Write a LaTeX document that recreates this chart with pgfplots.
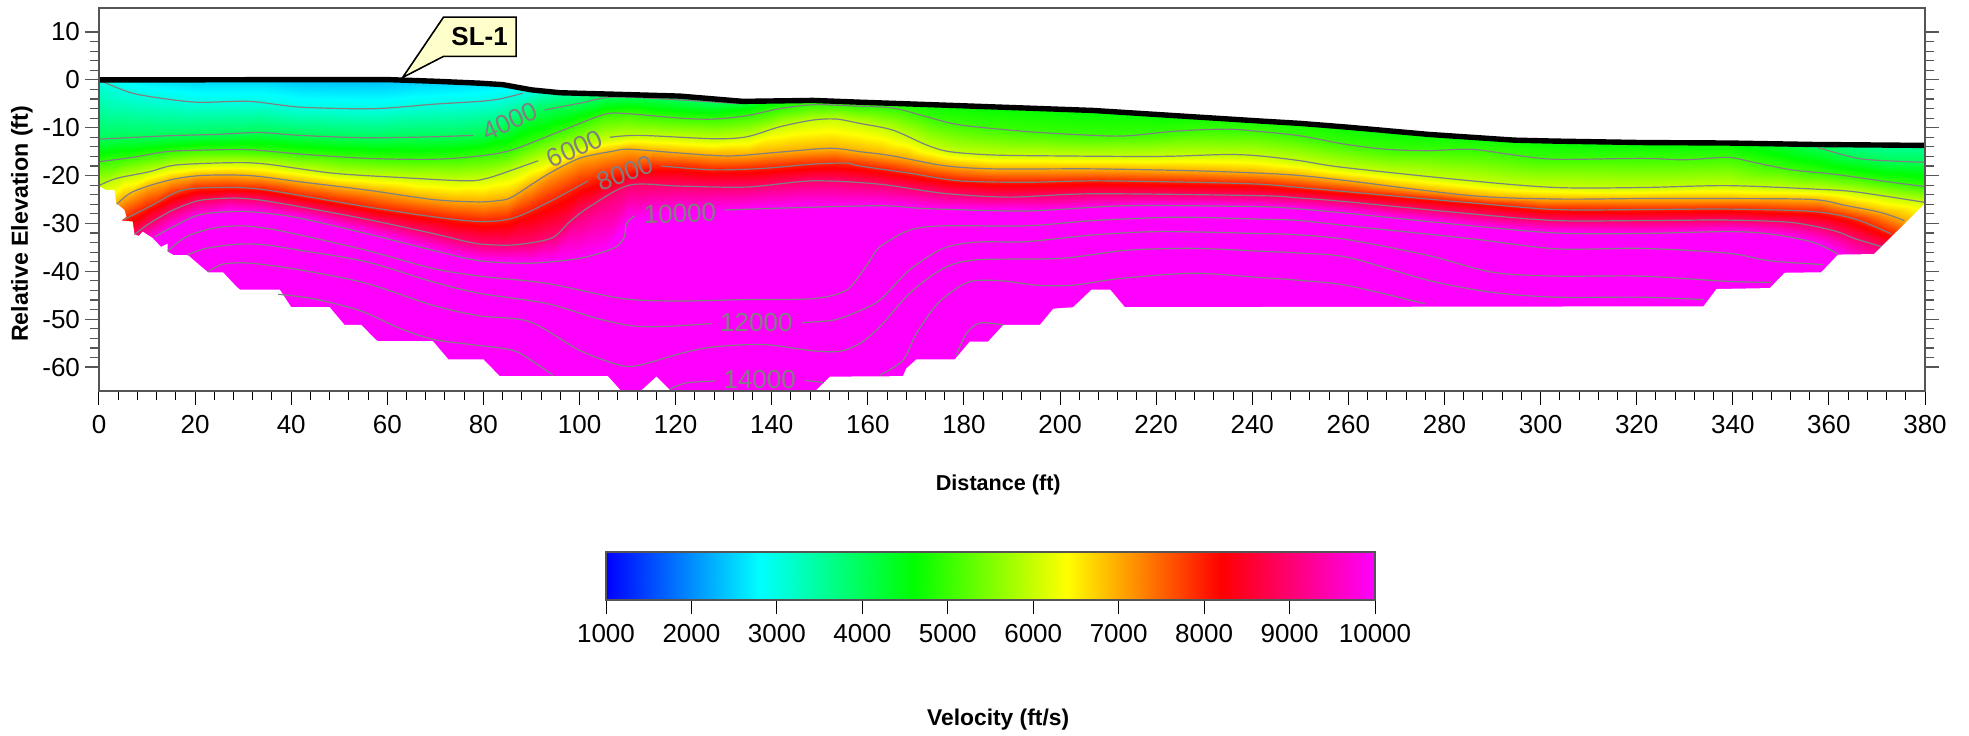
\documentclass[border=0pt]{standalone}
\usepackage{pgfplots}
\usepackage{fontspec}
\setmainfont{Liberation Sans}
\pgfplotsset{compat=1.18}
\definecolor{calloutfill}{HTML}{FFFFCC}
\definecolor{contourgray}{HTML}{808080}
\definecolor{framegray}{HTML}{555555}
\pgfplotsset{colormap={vel}{rgb255=(0,0,255) rgb255=(0,255,255) rgb255=(0,255,0) rgb255=(255,255,0) rgb255=(255,0,0) rgb255=(255,0,255)}}
\newcommand{\fs}[1]{\fontsize{#1}{#1}\selectfont}
\begin{document}
\begin{tikzpicture}[x=1pt,y=1pt]
\useasboundingbox (0,0) rectangle (984.5,367.5);
\begin{axis}[
  at={(49.5pt,172pt)}, anchor=south west,
  scale only axis, width=913pt, height=191.5pt,
  xmin=0, xmax=380, ymin=-65, ymax=15,
  axis on top,
  colormap name=vel,
  point meta min=1000, point meta max=10000,
  /pgf/number format/assume math mode=true,
  /pgf/number format/set thousands separator={},
  xtick={0,20,...,380}, ytick={-60,-50,...,10},
  minor x tick num=4, minor y tick num=4,
  xtick pos=bottom, ytick pos=both, yticklabel pos=left,
  tick align=outside,
  x tick style={black,line width=0.5pt},
  y tick style={framegray,line width=0.6pt},
  axis line style={framegray,line width=0.6pt},
  ticklabel style={font=\fs{13}},
  major tick length=7pt, minor tick length=4.5pt,
  xticklabel style={yshift=-1.5pt},
  yticklabel style={xshift=1pt},
  xlabel={Distance (ft)},
  x label style={font=\fs{10.8}\bfseries, at={(axis description cs:0.4925,0)}, anchor=center, yshift=-47pt},
  ylabel={Relative Elevation (ft)},
  y label style={font=\fs{11.6}\bfseries, at={(axis description cs:0,0.436)}, anchor=center, yshift=38.5pt},
]
% velocity field: rows follow the isovelocity curves read from the section
\addplot[surf, shader=interp, mesh/rows=10, mesh/cols=50, point meta=explicit] table[x=x,y=y,meta=v,row sep=\\] {
x y v\\
0 9 2000\\ 5 6.7 2000\\ 10 5.6 2000\\ 15 4.9 2000\\ 20 4.4 2000\\ 27 4.4 2000\\ 34 4.3 2000\\ 42 3.3 2000\\ 50 3.1 2000\\ 58 3 2000\\ 66 3.7 2000\\ 74 4.1 2000\\ 80 4.5 2000\\ 85 5.4 2000\\ 90 6.7 2000\\ 95 8 2000\\ 100 20 2000\\ 105 20 2000\\ 110 20 2000\\ 115 20 2000\\ 121 20 2000\\ 128 20 2000\\ 135 20 2000\\ 142 20 2000\\ 148 20 2000\\ 153 20 2000\\ 158 20 2000\\ 163 20 2000\\ 168 20 2000\\ 173 20 2000\\ 178 20 2000\\ 186 20 2000\\ 196 20 2000\\ 207 20 2000\\ 218 20 2000\\ 230 20 2000\\ 241 20 2000\\ 250 20 2000\\ 260 20 2000\\ 270 20 2000\\ 280 20 2000\\ 290 20 2000\\ 300 20 2000\\ 320 20 2000\\ 339 20 2000\\ 350 20 2000\\ 358 20 2000\\ 365 20 2000\\ 372 20 2000\\ 380 20 2000\\
0 0 3000\\ 5 -2.3 3000\\ 10 -3.4 3000\\ 15 -4.1 3000\\ 20 -4.6 3000\\ 27 -4.6 3000\\ 34 -4.7 3000\\ 42 -5.7 3000\\ 50 -5.9 3000\\ 58 -6 3000\\ 66 -5.3 3000\\ 74 -4.9 3000\\ 80 -4.5 3000\\ 85 -3.6 3000\\ 90 -2.3 3000\\ 95 -1 3000\\ 100 0 3000\\ 105 1 3000\\ 110 1 3000\\ 115 1 3000\\ 121 1 3000\\ 128 1 3000\\ 135 2 3000\\ 142 6 3000\\ 148 8 3000\\ 153 8 3000\\ 158 8 3000\\ 163 8 3000\\ 168 8 3000\\ 173 8 3000\\ 178 8 3000\\ 186 8 3000\\ 196 8 3000\\ 207 8 3000\\ 218 8 3000\\ 230 8 3000\\ 241 8 3000\\ 250 8 3000\\ 260 4 3000\\ 270 3 3000\\ 280 2 3000\\ 290 1 3000\\ 300 0 3000\\ 320 -1 3000\\ 339 -2 3000\\ 350 -6 3000\\ 358 -8 3000\\ 365 -9 3000\\ 372 -10 3000\\ 380 -10 3000\\
0 -12.4 4000\\ 5 -12 4000\\ 10 -11.9 4000\\ 15 -11.7 4000\\ 20 -11.5 4000\\ 27 -11.3 4000\\ 34 -11 4000\\ 42 -11.6 4000\\ 50 -11.9 4000\\ 58 -12.1 4000\\ 66 -12 4000\\ 74 -11.7 4000\\ 80 -11.1 4000\\ 85 -9.5 4000\\ 90 -6.8 4000\\ 95 -5.7 4000\\ 100 -4.9 4000\\ 105 -3.9 4000\\ 110 -3.6 4000\\ 115 -3.9 4000\\ 121 -4.2 4000\\ 128 -4.8 4000\\ 135 -4 4000\\ 142 -2 4000\\ 148 -1 4000\\ 153 -1 4000\\ 158 -0.8 4000\\ 163 -0.5 4000\\ 168 0 4000\\ 173 0 4000\\ 178 0.5 4000\\ 186 1 4000\\ 196 1.5 4000\\ 207 1.5 4000\\ 218 1 4000\\ 230 -0.5 4000\\ 241 -1 4000\\ 250 -2 4000\\ 260 -3 4000\\ 270 -4 4000\\ 280 -5 4000\\ 290 -6 4000\\ 300 -7 4000\\ 320 -8 4000\\ 339 -9 4000\\ 350 -12 4000\\ 358 -14.1 4000\\ 365 -16 4000\\ 372 -16.9 4000\\ 380 -17.2 4000\\
0 -17.1 5000\\ 5 -16.5 5000\\ 10 -15.7 5000\\ 15 -15 5000\\ 20 -14.7 5000\\ 27 -14.6 5000\\ 34 -14.8 5000\\ 42 -15.5 5000\\ 50 -16 5000\\ 58 -16.4 5000\\ 66 -16.6 5000\\ 74 -16.3 5000\\ 80 -15.8 5000\\ 85 -15 5000\\ 90 -12.9 5000\\ 95 -11.1 5000\\ 100 -9.2 5000\\ 105 -7.3 5000\\ 110 -7 5000\\ 115 -7.5 5000\\ 121 -8 5000\\ 128 -8.2 5000\\ 135 -7.5 5000\\ 142 -6 5000\\ 148 -5.2 5000\\ 153 -5.3 5000\\ 158 -5.6 5000\\ 163 -5.8 5000\\ 168 -6.6 5000\\ 173 -7.9 5000\\ 178 -9.1 5000\\ 186 -10.1 5000\\ 196 -11 5000\\ 207 -11.6 5000\\ 218 -11.3 5000\\ 230 -10.4 5000\\ 241 -10.7 5000\\ 250 -11.7 5000\\ 260 -13.5 5000\\ 270 -14.6 5000\\ 280 -14.7 5000\\ 290 -15.1 5000\\ 300 -16.3 5000\\ 320 -16.4 5000\\ 339 -16.2 5000\\ 350 -18.3 5000\\ 358 -19.4 5000\\ 365 -20.3 5000\\ 372 -21.3 5000\\ 380 -22.3 5000\\
0 -22.1 6000\\ 5 -20.3 6000\\ 10 -19.3 6000\\ 15 -18 6000\\ 20 -17.6 6000\\ 27 -17.3 6000\\ 34 -17.5 6000\\ 42 -18.6 6000\\ 50 -19.6 6000\\ 58 -20.1 6000\\ 66 -20.6 6000\\ 74 -21 6000\\ 80 -20.6 6000\\ 85 -19.4 6000\\ 90 -17.4 6000\\ 95 -15.7 6000\\ 100 -14.1 6000\\ 105 -12.4 6000\\ 110 -11.7 6000\\ 115 -11.7 6000\\ 121 -12 6000\\ 128 -12.3 6000\\ 135 -11.8 6000\\ 142 -9.7 6000\\ 148 -8.5 6000\\ 153 -8.2 6000\\ 158 -9 6000\\ 163 -10 6000\\ 168 -11.7 6000\\ 173 -13.9 6000\\ 178 -15.1 6000\\ 186 -15.7 6000\\ 196 -15.8 6000\\ 207 -15.9 6000\\ 218 -16 6000\\ 230 -15.7 6000\\ 241 -15.9 6000\\ 250 -16.9 6000\\ 260 -18.4 6000\\ 270 -19.5 6000\\ 280 -20.5 6000\\ 290 -21.5 6000\\ 300 -22.2 6000\\ 320 -22.5 6000\\ 339 -22.1 6000\\ 350 -22.5 6000\\ 358 -22.9 6000\\ 365 -23.4 6000\\ 372 -24.4 6000\\ 380 -25.6 6000\\
0 -29 7000\\ 5 -24.9 7000\\ 10 -22.4 7000\\ 15 -20.9 7000\\ 20 -20.1 7000\\ 27 -19.9 7000\\ 34 -20.2 7000\\ 42 -21.3 7000\\ 50 -22.3 7000\\ 58 -23.3 7000\\ 66 -24.5 7000\\ 74 -25.3 7000\\ 80 -25.5 7000\\ 85 -24.8 7000\\ 90 -21.9 7000\\ 95 -18.9 7000\\ 100 -16.4 7000\\ 105 -15.3 7000\\ 110 -14.5 7000\\ 115 -14.9 7000\\ 121 -15.3 7000\\ 128 -15.7 7000\\ 135 -15.6 7000\\ 142 -15.1 7000\\ 148 -14.6 7000\\ 153 -14.4 7000\\ 158 -15 7000\\ 163 -15.6 7000\\ 168 -16.4 7000\\ 173 -17.4 7000\\ 178 -18.1 7000\\ 186 -18.6 7000\\ 196 -18.6 7000\\ 207 -18.6 7000\\ 218 -18.8 7000\\ 230 -19.1 7000\\ 241 -19.5 7000\\ 250 -20 7000\\ 260 -21.1 7000\\ 270 -22.3 7000\\ 280 -23.5 7000\\ 290 -24.4 7000\\ 300 -24.8 7000\\ 320 -24.8 7000\\ 339 -24.8 7000\\ 350 -24.9 7000\\ 358 -25.2 7000\\ 365 -26.6 7000\\ 372 -28.1 7000\\ 380 -31 7000\\
0 -32.5 8000\\ 5 -29.3 8000\\ 10 -26.8 8000\\ 15 -24.2 8000\\ 20 -22.9 8000\\ 27 -22.5 8000\\ 34 -22.9 8000\\ 42 -24.2 8000\\ 50 -25.6 8000\\ 58 -26.9 8000\\ 66 -28 8000\\ 74 -29.1 8000\\ 80 -29.6 8000\\ 85 -29.2 8000\\ 90 -27.2 8000\\ 95 -24.8 8000\\ 100 -22.1 8000\\ 105 -20.5 8000\\ 110 -19.3 8000\\ 115 -18.2 8000\\ 121 -18.3 8000\\ 128 -18.8 8000\\ 135 -18.6 8000\\ 142 -18.2 8000\\ 148 -17.7 8000\\ 153 -17.5 8000\\ 158 -18 8000\\ 163 -18.6 8000\\ 168 -19.4 8000\\ 173 -20.2 8000\\ 178 -21 8000\\ 186 -21.3 8000\\ 196 -21.4 8000\\ 207 -21.1 8000\\ 218 -21.3 8000\\ 230 -21.5 8000\\ 241 -21.8 8000\\ 250 -22.5 8000\\ 260 -23.4 8000\\ 270 -24.3 8000\\ 280 -25.2 8000\\ 290 -26 8000\\ 300 -26.9 8000\\ 320 -27.1 8000\\ 339 -27 8000\\ 350 -27.3 8000\\ 358 -27.7 8000\\ 365 -29 8000\\ 372 -31.8 8000\\ 380 -37 8000\\
0 -37 9000\\ 5 -34 9000\\ 10 -30.4 9000\\ 15 -27.4 9000\\ 20 -25.5 9000\\ 27 -24.7 9000\\ 34 -25.2 9000\\ 42 -26.5 9000\\ 50 -28 9000\\ 58 -29.6 9000\\ 66 -31.4 9000\\ 74 -33.2 9000\\ 80 -34.3 9000\\ 85 -34.5 9000\\ 90 -34 9000\\ 95 -32.4 9000\\ 100 -28.1 9000\\ 105 -24.9 9000\\ 110 -22.1 9000\\ 115 -22.1 9000\\ 121 -22.2 9000\\ 128 -22.4 9000\\ 135 -22.4 9000\\ 142 -21.7 9000\\ 148 -21.1 9000\\ 153 -21.2 9000\\ 158 -21.5 9000\\ 163 -21.9 9000\\ 168 -22.6 9000\\ 173 -23.3 9000\\ 178 -23.9 9000\\ 186 -24.4 9000\\ 196 -24.3 9000\\ 207 -23.8 9000\\ 218 -23.9 9000\\ 230 -24.1 9000\\ 241 -24.2 9000\\ 250 -24.7 9000\\ 260 -25.5 9000\\ 270 -26.5 9000\\ 280 -27.5 9000\\ 290 -28.4 9000\\ 300 -29.2 9000\\ 320 -29.4 9000\\ 339 -29.3 9000\\ 350 -29.7 9000\\ 358 -30.8 9000\\ 365 -33 9000\\ 372 -35.5 9000\\ 380 -42 9000\\
0 -41 10000\\ 5 -37.5 10000\\ 10 -34 10000\\ 15 -30.9 10000\\ 20 -28.6 10000\\ 27 -27.5 10000\\ 34 -27.8 10000\\ 42 -28.9 10000\\ 50 -30.8 10000\\ 58 -32.7 10000\\ 66 -34.7 10000\\ 74 -36.7 10000\\ 80 -37.9 10000\\ 85 -38.1 10000\\ 90 -38.3 10000\\ 95 -37.8 10000\\ 100 -37.3 10000\\ 105 -35.8 10000\\ 110 -29.6 10000\\ 115 -28.2 10000\\ 121 -27.8 10000\\ 128 -27.3 10000\\ 135 -27 10000\\ 142 -26.8 10000\\ 148 -26.6 10000\\ 153 -26.5 10000\\ 158 -26.4 10000\\ 163 -26.3 10000\\ 168 -26.6 10000\\ 173 -26.9 10000\\ 178 -27 10000\\ 186 -27.2 10000\\ 196 -27.3 10000\\ 207 -26.7 10000\\ 218 -26.3 10000\\ 230 -26.4 10000\\ 241 -26.5 10000\\ 250 -27 10000\\ 260 -27.9 10000\\ 270 -28.9 10000\\ 280 -29.9 10000\\ 290 -30.9 10000\\ 300 -31.8 10000\\ 320 -32.1 10000\\ 339 -31.7 10000\\ 350 -32.6 10000\\ 358 -34.3 10000\\ 365 -38 10000\\ 372 -44 10000\\ 380 -50 10000\\
0 -70 10000\\ 5 -70 10000\\ 10 -70 10000\\ 15 -70 10000\\ 20 -70 10000\\ 27 -70 10000\\ 34 -70 10000\\ 42 -70 10000\\ 50 -70 10000\\ 58 -70 10000\\ 66 -70 10000\\ 74 -70 10000\\ 80 -70 10000\\ 85 -70 10000\\ 90 -70 10000\\ 95 -70 10000\\ 100 -70 10000\\ 105 -70 10000\\ 110 -70 10000\\ 115 -70 10000\\ 121 -70 10000\\ 128 -70 10000\\ 135 -70 10000\\ 142 -70 10000\\ 148 -70 10000\\ 153 -70 10000\\ 158 -70 10000\\ 163 -70 10000\\ 168 -70 10000\\ 173 -70 10000\\ 178 -70 10000\\ 186 -70 10000\\ 196 -70 10000\\ 207 -70 10000\\ 218 -70 10000\\ 230 -70 10000\\ 241 -70 10000\\ 250 -70 10000\\ 260 -70 10000\\ 270 -70 10000\\ 280 -70 10000\\ 290 -70 10000\\ 300 -70 10000\\ 320 -70 10000\\ 339 -70 10000\\ 350 -70 10000\\ 358 -70 10000\\ 365 -70 10000\\ 372 -70 10000\\ 380 -70 10000\\
};
% white above the ground surface
\addplot[fill=white,draw=none,forget plot] coordinates {(-1,0)(0,0)(20,0)(40,0.05)(60,0.05)(70,-0.3)(79.2,-0.7)(84,-1)(90,-2.1)(96,-2.7)(107,-3)(120.9,-3.4)(134,-4.5)(148.6,-4.3)(158.3,-4.67)(179.1,-5.4)(206.9,-6.4)(241.6,-8.6)(250,-9.1)(260,-9.9)(276.7,-11.4)(294.5,-12.6)(303,-12.8)(321,-13.1)(339,-13.2)(356.6,-13.5)(380,-13.7)(381,-13.7)(381,16)(-1,16)} --cycle;
% white below the ray coverage
\addplot[fill=white,draw=none,forget plot] coordinates {(-1,-22.3)(0,-22.3)(1.5,-23)(3.2,-23)(3.6,-25.8)(5.3,-27.2)(5.7,-28.6)(4.6,-29.4)(7,-29.6)(7.4,-32.3)(8.3,-32.6)(9.1,-31.7)(11.2,-33.1)(12.9,-34.9)(14.3,-34.2)(14.3,-35.9)(15.5,-36.6)(18.5,-36.6)(20.9,-38.7)(22.7,-40.2)(25.8,-40.2)(28.6,-43.2)(29.3,-43.8)(37.6,-43.8)(40,-47.5)(48,-47.5)(51.1,-51.2)(54.6,-51.2)(57.7,-54.4)(58.1,-54.6)(69.5,-54.6)(72.7,-58.4)(80,-58.4)(83.4,-61.9)(105.9,-61.9)(109.1,-65.5)(112.2,-65.5)(116,-62)(119.5,-65.5)(148.6,-65.5)(152.1,-62)(167.3,-61.9)(168,-60.3)(170.1,-58.4)(178.1,-58.4)(181.2,-54.7)(185,-54.7)(188.2,-51.2)(195.8,-51.2)(198.6,-47.8)(202.7,-47.5)(206.6,-43.8)(210.4,-43.8)(213.5,-47.5)(333.9,-47.3)(336.6,-43.7)(347.7,-43.5)(350.8,-40.3)(358.4,-40.2)(361.9,-36.5)(369.4,-36.4)(380,-25.8)(381,-25.8)(381,-67)(-1,-67)} --cycle;
% contours
\pgfplotsset{cont/.style={contourgray,line width=0.6pt,smooth,tension=0.5,no markers,forget plot}}
\addplot[cont] coordinates {(0.5,-0.3)(1.5,-0.7)(7,-2.8)(14,-4)(20.9,-4.7)(31.3,-4.5)(41.8,-5.7)(55.6,-6.06)(62.6,-5.7)(69.5,-5.1)(79.2,-4.5)(83.4,-4)(88.2,-2.8)};
\addplot[cont] coordinates {(0,-12.4)(14,-11.7)(24.4,-11.4)(33.4,-11)(41.8,-11.6)(55.6,-12.1)(69.5,-11.9)(77.9,-11.6)};
\addplot[cont] coordinates {(92.7,-6.3)(100,-4.9)(107,-3.6)(120.9,-4.2)(133.4,-5)};
\addplot[cont] coordinates {(357.6,-14.1)(366,-16.4)(374,-17)(380,-17.2)};
\addplot[cont] coordinates {(0,-17.1)(7,-16.2)(14,-15)(21,-14.7)(31.3,-14.6)(41.8,-15.5)(55.6,-16.4)(69.5,-16.6)(79.2,-15.9)(86.1,-14.6)(96.6,-10.5)(104.9,-7.3)(109,-7)(120.9,-8)(127.8,-8.2)(134.8,-7.5)(141.7,-6)(148.6,-5.2)(155.6,-5.4)(165.2,-5.9)(172.2,-7.7)(179.1,-9.4)(193,-10.8)(206.9,-11.6)(213.9,-11.7)(224.3,-10.7)(234.7,-10.3)(241.6,-10.8)(250,-11.7)(259,-13.4)(267.8,-14.5)(276.7,-14.8)(285.6,-14.5)(294.5,-15.7)(303.3,-16.6)(321,-16.4)(330,-16.7)(338.9,-16.2)(344.2,-17.2)(352.2,-18.8)(361,-19.7)(370.8,-21.1)(380,-22.3)};
\addplot[cont] coordinates {(0,-22.1)(3.6,-20.6)(10.5,-19.2)(16,-17.8)(27.9,-17.3)(34.8,-17.6)(48.7,-19.5)(62.6,-20.4)(76.5,-21.1)(81,-20.5)(86.1,-18.8)(91.4,-16.9)};
\addplot[cont] coordinates {(106.3,-12)(112.5,-11.6)(127.8,-12.3)(134.8,-11.9)(141.7,-9.8)(148.6,-8.4)(153.5,-8.2)(158.3,-9.1)(165.2,-10.5)(172.2,-13.6)(177,-15)(186.1,-15.7)(200,-15.9)(220.8,-16)(234.7,-15.6)(241.6,-15.9)(250,-16.9)(259,-18.3)(285.6,-21.1)(303.3,-22.5)(321,-22.5)(338.9,-22.1)(356.6,-22.8)(365.5,-23.4)(380,-25.6)};
\addplot[cont] coordinates {(3.7,-26)(7,-23.4)(14,-21.1)(21,-20)(31.3,-20)(41.8,-21.3)(55.6,-23)(69.5,-25)(78.6,-25.5)(83.4,-25.2)(86.1,-24.4)(93.1,-19.9)(100,-16.4)(107,-14.9)(110.4,-14.5)(120.9,-15.3)(131.3,-15.9)(141.7,-15.1)(152.1,-14.3)(158.3,-15)(165.2,-15.9)(175.7,-17.9)(186.1,-18.6)(206.9,-18.6)(227.7,-19)(241.6,-19.5)(250,-20)(260,-21.1)(285.6,-24.2)(303.3,-24.9)(321,-24.8)(338.9,-24.8)(356.6,-25)(363.7,-26.3)(370.8,-27.7)(375.7,-29.4)};
\addplot[cont] coordinates {(5,-29.3)(10.5,-26.5)(17.5,-23)(26.5,-22.5)(34.8,-23)(55.6,-26.5)(69.5,-28.6)(79.2,-29.6)(86.1,-28.9)(93.1,-25.8)(101.8,-21.1)};
\addplot[cont] coordinates {(117,-18)(127.8,-18.8)(138.2,-18.5)(148.6,-17.6)(155.6,-17.4)(158.3,-18)(168.7,-19.5)(179.1,-21.1)(193,-21.4)(206.9,-21.1)(227.7,-21.4)(241.6,-21.8)(250,-22.5)(260,-23.4)(285.6,-25.7)(303.3,-27.1)(321,-27.1)(338.9,-27)(356.6,-27.5)(365.5,-29.1)(373,-32.2)};
\addplot[cont] coordinates {(7.4,-32.3)(10.5,-30)(15.4,-27.2)(20.9,-25.2)(27.9,-24.7)(33.4,-25.1)(41.8,-26.5)(55.6,-29.1)(69.5,-32.1)(76.5,-33.8)(79.2,-34.3)(86.1,-34.5)(94.1,-33.1)(98,-29.6)(102.1,-26.5)(110.4,-22)(120.9,-22.2)(134.8,-22.4)(148.6,-21.1)(162.5,-21.8)(175.7,-23.7)(189.5,-24.5)(206.9,-23.8)(241.6,-24.2)(250,-24.7)(260,-25.5)(285.6,-28)(303.3,-29.4)(321,-29.4)(338.9,-29.3)(352.2,-29.8)(361,-31.5)(365.5,-33.2)(370.8,-34.8)};
\addplot[cont] coordinates {(11.6,-32.8)(15.4,-30.7)(20.9,-28.2)(27.9,-27.5)(33.4,-27.7)(41.8,-28.9)(55.6,-32.1)(69.5,-35.6)(79.2,-37.8)(89.6,-38.3)(100,-37.3)(107,-35.2)(109.2,-33.1)(109.8,-30)(111.5,-28.4)};
\addplot[cont] coordinates {(130.2,-27.2)(141.7,-26.8)(162.5,-26.3)(172.2,-26.9)(193,-27.4)(213.9,-26.3)(241.6,-26.5)(250,-27)(260,-27.9)(285.6,-30.5)(303.3,-32)(321,-32.1)(338.9,-31.7)(347.7,-32.2)(356.6,-33.9)(361.9,-36.4)};
\addplot[cont] coordinates {(14.3,-35.8)(18.1,-32.8)(23.7,-31)(29.3,-30.5)(34.8,-31)(41.8,-32.4)(55.6,-35.6)(69.5,-39.4)(79.2,-41)(93.1,-42.5)(109,-45.7)(120.9,-46.2)(134.8,-45.9)(148.6,-45.7)(155.6,-43.9)(159.8,-38.7)(162.5,-34.9)(168.7,-31.4)(175.7,-30.5)(193,-30.5)(206.9,-29.4)(224.3,-28.7)(241.6,-29.1)(250,-29.4)(260,-30.5)(285.6,-33.2)(303.3,-35.3)(321,-35.2)(338.9,-36.2)(347.7,-37.8)(358.9,-38.6)};
\addplot[cont] coordinates {(18.3,-36.6)(22.3,-35.2)(29.3,-34.3)(34.8,-34.5)(41.8,-35.6)(55.6,-38)(69.5,-42.2)(79.2,-44.6)(93.1,-46.7)(103.5,-49.8)(111.1,-51.4)(118.1,-51.5)(127.5,-50.9)};
\addplot[cont] coordinates {(146.2,-50.7)(152.8,-50.2)(157.7,-48.5)(162.5,-46)(168.7,-39.7)(175.7,-35.2)(182.6,-33.9)(193,-33.8)(206.9,-32.4)(220.8,-31.7)(241.6,-32.1)(250,-32.4)(260,-33.4)(276.7,-36.7)(290,-40.2)(303.3,-41)(321,-41)(338.9,-42.1)(348,-42.3)};
\addplot[cont] coordinates {(22.7,-40.1)(25.8,-38.5)(31.4,-38.3)(41.8,-39.7)(55.6,-42.5)(69.5,-47.1)(79.2,-49.3)(89.6,-50.5)(100,-56.5)(108.4,-59.6)(112.5,-59.6)(120.9,-57.2)(127.8,-55.8)(138.2,-55.3)(148.6,-56.6)(154.2,-56.7)(158.3,-55.1)(162.5,-51.6)(168.7,-44.6)(175.7,-39.4)(182.6,-37.6)(200,-37.3)(213.9,-35.6)(227.7,-35.2)(241.6,-35.8)(250,-36.2)(260,-37.1)(276.7,-41.9)(290,-44.4)(303.3,-45.4)(321,-45.4)(334,-45.9)};
\addplot[cont] coordinates {(37.3,-44.8)(44.5,-45.7)(54.3,-48.2)(62.6,-51.9)(69.5,-54.2)(76.5,-55.2)(86.1,-56.5)(91,-59.3)(94.5,-61.7)};
\addplot[cont] coordinates {(118.8,-64.6)(122.3,-63.3)(128.2,-62.9)};
\addplot[cont] coordinates {(147,-62.8)(150.7,-63.2)};
\addplot[cont] coordinates {(162.5,-61.7)(167.3,-58.6)(170.1,-53)(174.3,-47)(178.4,-43.6)(181.9,-42)(188.2,-42)(195.1,-42.9)(202.7,-42.9)(212.5,-41.5)(227.7,-40.4)(241.6,-41.3)(250,-41.9)(260,-43)(276,-46.8)};
\addplot[cont] coordinates {(178.4,-57.5)(180.5,-53)(183.3,-50.8)(188.2,-51.2)};
% contour labels
\node[contourgray,font=\fs{13},rotate=24] at (axis cs:85.5,-8.7) {4000};
\node[contourgray,font=\fs{13},rotate=24] at (axis cs:99,-14.4) {6000};
\node[contourgray,font=\fs{13},rotate=20] at (axis cs:109.4,-19.5) {8000};
\node[contourgray,font=\fs{13},rotate=2] at (axis cs:120.9,-27.9) {10000};
\node[contourgray,font=\fs{13}] at (axis cs:136.8,-50.8) {12000};
\node[contourgray,font=\fs{13}] at (axis cs:137.5,-62.7) {14000};
% ground surface
\addplot[black,line width=2.7pt,line cap=round,line join=round,no markers,forget plot] coordinates {(0,0)(20,0)(40,0.05)(60,0.05)(70,-0.3)(79.2,-0.7)(84,-1)(90,-2.1)(96,-2.7)(107,-3)(120.9,-3.4)(134,-4.5)(148.6,-4.3)(158.3,-4.67)(179.1,-5.4)(206.9,-6.4)(241.6,-8.6)(250,-9.1)(260,-9.9)(276.7,-11.4)(294.5,-12.6)(303,-12.8)(321,-13.1)(339,-13.2)(356.6,-13.5)(380,-13.7)};
% line label
\addplot[fill=calloutfill,draw=black,line width=0.8pt,forget plot] coordinates {(86.8,13.1)(71.7,13.1)(63.2,0.5)(71.7,4.9)(86.8,4.9)} --cycle;
\node[font=\fs{13}\bfseries] at (axis cs:79.2,9) {SL-1};
\end{axis}
% colour scale
\begin{axis}[
  at={(303pt,67.5pt)}, anchor=south west,
  scale only axis, width=384.5pt, height=24pt,
  xmin=1000, xmax=10000, ymin=0, ymax=1,
  axis on top,
  colormap name=vel,
  point meta min=1000, point meta max=10000,
  /pgf/number format/assume math mode=true,
  /pgf/number format/set thousands separator={},
  scaled x ticks=false,
  xtick={1000,2000,...,10000}, ytick=\empty,
  xtick pos=bottom, tick align=outside,
  x tick style={black,line width=0.5pt},
  axis line style={framegray,line width=0.6pt},
  ticklabel style={font=\fs{13}},
  major tick length=7pt,
  xticklabel style={yshift=-1.5pt},
  xlabel={Velocity (ft/s)},
  x label style={font=\fs{11.4}\bfseries, at={(axis description cs:0.51,0)}, anchor=center, yshift=-60pt},
]
\addplot[surf, shader=interp, mesh/rows=2, mesh/cols=6, point meta=explicit] table[x=x,y=y,meta=v,row sep=\\] {
x y v\\
1000 0 1000\\ 2800 0 2800\\ 4600 0 4600\\ 6400 0 6400\\ 8200 0 8200\\ 10000 0 10000\\
1000 1 1000\\ 2800 1 2800\\ 4600 1 4600\\ 6400 1 6400\\ 8200 1 8200\\ 10000 1 10000\\
};
\end{axis}
\end{tikzpicture}
\end{document}
